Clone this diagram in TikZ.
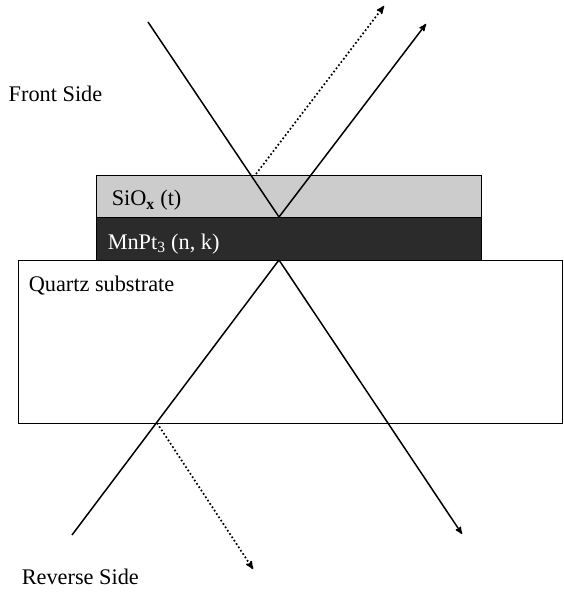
\documentclass[tikz,border=0pt]{standalone}
\usepackage{fontspec}
\setmainfont{Liberation Serif}
\usetikzlibrary{arrows,positioning}

\definecolor{siogray}{gray}{0.80}
\definecolor{mnptgray}{gray}{0.17}

\begin{document}
\begin{tikzpicture}[x=1pt,y=-1pt,>=stealth',line width=1.5pt,
  layer/.style={draw,line width=0.9pt,inner sep=0pt,outer sep=0pt,anchor=north west},
  label text/.style={anchor=base west,inner sep=0pt,font=\fontsize{22.3}{26}\selectfont},
  ray/.style={->},
  weak ray/.style={->,line width=1.7pt,dash pattern=on 1.7pt off 2.3pt}]
  \useasboundingbox (0,0) rectangle (563,593);
  % substrate and the two films
  \node[layer,minimum width=544pt,minimum height=163pt] (quartz) at (18,260) {};
  \node[layer,fill=siogray,minimum width=385pt,minimum height=42pt] (siox) at (96,175) {};
  \node[layer,fill=mnptgray,minimum width=385pt,minimum height=43pt] (mnpt) at (96,217) {};
  % labels
  \node[label text] (front) at (8,102) {Front Side};
  \node[label text] (reverse) at (21,584) {Reverse Side};
  \node[label text] (quartz label) at (28,291) {Quartz substrate};
  \node[label text] (siox label) at (111,206) {SiO\textsubscript{\textbf{x}} (t)};
  \node[label text,text=white] (mnpt label) at (107,249) {MnPt\textsubscript{3} (n, k)};
  % ray points
  \coordinate (in) at (148,22);
  \coordinate (top hit) at (279,217);
  \coordinate (refl) at (426,24);
  \coordinate (surf) at (256,174);
  \coordinate (surf out) at (384,6);
  \coordinate (back in) at (72,535);
  \coordinate (bottom hit) at (279,260);
  \coordinate (trans) at (462,534);
  \coordinate (back hit) at (157,423);
  \coordinate (back out) at (253,569);
  % rays
  \draw (in) -- (top hit);
  \draw[ray] (top hit) -- (refl);
  \draw[weak ray] (surf) -- (surf out);
  \draw (back in) -- (bottom hit);
  \draw[ray] (bottom hit) -- (trans);
  \draw[weak ray] (back hit) -- (back out);
\end{tikzpicture}
\end{document}
